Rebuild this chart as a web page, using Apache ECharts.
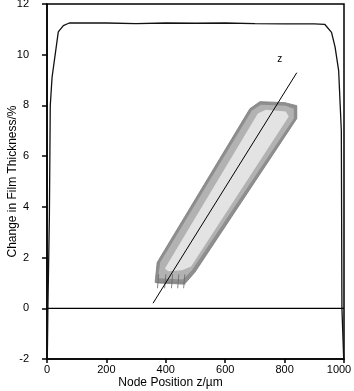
<!DOCTYPE html>
<html><head><meta charset="utf-8">
<script src="https://cdn.jsdelivr.net/npm/echarts@6/dist/echarts.min.js"></script>
<style>html,body{margin:0;padding:0;background:#fff}#c{width:354px;height:391px}</style>
</head><body><div id="c"></div>
<script>
// main curve
const curveX = [1, 3, 8, 11, 17, 38, 55, 75, 100, 200, 300, 400, 500, 600, 700, 800, 900, 935, 958, 970, 982, 991, 993, 999];
const curveY = [-2, 0, 3.6, 8, 9.1, 10.9, 11.15, 11.25, 11.25, 11.25, 11.23, 11.25, 11.24, 11.25, 11.23, 11.22, 11.22, 11.2, 10.88, 10.3, 9.37, 7.0, 0, -2];
// zero reference line
const zeroX = [0, 1000];
const zeroY = [0, 0];
// inset: specimen outline polygons (data coordinates)
const outerShape = [[364,1.02],[371,1.81],[683,7.87],[717,8.15],[801,8.11],[841,7.99],[841,7.48],[498,1.42],[465,0.98]];
const midShape = [[374,1.18],[381,1.81],[690,7.80],[720,8.03],[804,7.99],[831,7.87],[831,7.48],[488,1.50],[458,1.14]];
const innerShape = [[397,1.57],[710,7.68],[737,7.83],[804,7.76],[814,7.56],[485,1.65],[455,1.50],[408,1.46]];
const hatchX = [372, 396, 419, 440, 460];
const hatchTop = 1.34, hatchBottom = 0.79;
// inset z axis
const zAxisX = [357, 841];
const zAxisY = [0.2, 9.29];
const zLabel = [784, 9.84];

const xTicks = [0, 200, 400, 600, 800, 1000];
const yTicks = [-2, 0, 2, 4, 6, 8, 10, 12];

const chart = echarts.init(document.getElementById('c'));
const font = 'Liberation Sans, Arial, sans-serif';
chart.setOption({
  animation: false,
  grid: {left: 47, right: 10, top: 4, bottom: 32, show: true, borderColor: '#000', borderWidth: 1.5, containLabel: false, outerBoundsMode: 'none'},
  xAxis: {
    type: 'value', min: 0, max: 1000, interval: 200,
    name: 'Node Position z/\u00b5m', nameLocation: 'middle', nameGap: 18, nameMoveOverlap: false,
    nameTextStyle: {color: '#000', fontSize: 12, fontFamily: font, padding: [0, 50, 0, 0], verticalAlign: 'top'},
    axisLine: {show: true, onZero: false, lineStyle: {color: '#000', width: 1.5}},
    axisTick: {show: true, inside: false, length: 4, lineStyle: {color: '#000', width: 1.5}},
    axisLabel: {
      color: '#000', fontSize: 11, fontFamily: font, margin: 5,
      formatter: v => v === xTicks[xTicks.length - 1] ? '{m|' + v + '}' : String(v),
      rich: {m: {fontSize: 11, fontFamily: font, color: '#000', padding: [0, 10, 0, 0]}}
    },
    splitLine: {show: false}
  },
  yAxis: {
    type: 'value', min: -2, max: 12, interval: 2,
    name: 'Change in Film Thickness/%', nameLocation: 'middle', nameGap: 28, nameMoveOverlap: false,
    nameTextStyle: {color: '#000', fontSize: 12, fontFamily: font},
    axisLine: {show: true, onZero: false, lineStyle: {color: '#000', width: 1.5}},
    axisTick: {show: true, inside: false, length: 5, lineStyle: {color: '#000', width: 1.5}},
    axisLabel: {color: '#000', fontSize: 11, fontFamily: font, margin: 18, padding: [3, 0, 0, 0], formatter: v => String(v)},
    splitLine: {show: false}
  },
  series: [
    {
      type: 'custom', silent: true, z: 1,
      data: [0],
      renderItem: function (params, api) {
        const toPts = arr => arr.map(p => api.coord(p));
        const children = [
          {type: 'polygon', shape: {points: toPts(outerShape)}, style: {fill: '#8e8e8e', stroke: '#7a7a7a', lineWidth: 0.8}},
          {type: 'polygon', shape: {points: toPts(midShape)}, style: {fill: '#b2b2b2'}},
          {type: 'polygon', shape: {points: toPts(innerShape)}, style: {fill: '#e3e3e3'}}
        ];
        hatchX.forEach(function (hx) {
          const a = api.coord([hx + 4, hatchTop]);
          const b = api.coord([hx, hatchBottom]);
          children.push({type: 'line', shape: {x1: a[0], y1: a[1], x2: b[0], y2: b[1]}, style: {stroke: '#666', lineWidth: 0.8}});
        });
        const l1 = api.coord([hatchX[0] - 3, 1.0]);
        const l2 = api.coord([hatchX[hatchX.length - 1] + 6, 0.95]);
        children.push({type: 'line', shape: {x1: l1[0], y1: l1[1], x2: l2[0], y2: l2[1]}, style: {stroke: '#777', lineWidth: 0.8}});
        const t = api.coord(zLabel);
        children.push({type: 'text', style: {text: 'z', x: t[0], y: t[1], fill: '#000', fontSize: 10, fontFamily: font, align: 'center', verticalAlign: 'middle'}});
        return {type: 'group', children: children};
      }
    },
    {
      type: 'line', z: 3, symbol: 'none', silent: true,
      data: zAxisX.map((x, i) => [x, zAxisY[i]]),
      lineStyle: {color: '#000', width: 1}
    },
    {
      type: 'line', z: 4, symbol: 'none', silent: true,
      data: zeroX.map((x, i) => [x, zeroY[i]]),
      lineStyle: {color: '#000', width: 1.3}
    },
    {
      type: 'line', z: 5, symbol: 'none', silent: true,
      data: curveX.map((x, i) => [x, curveY[i]]),
      lineStyle: {color: '#111', width: 1.3}
    }
  ]
});
</script>
</body></html>
